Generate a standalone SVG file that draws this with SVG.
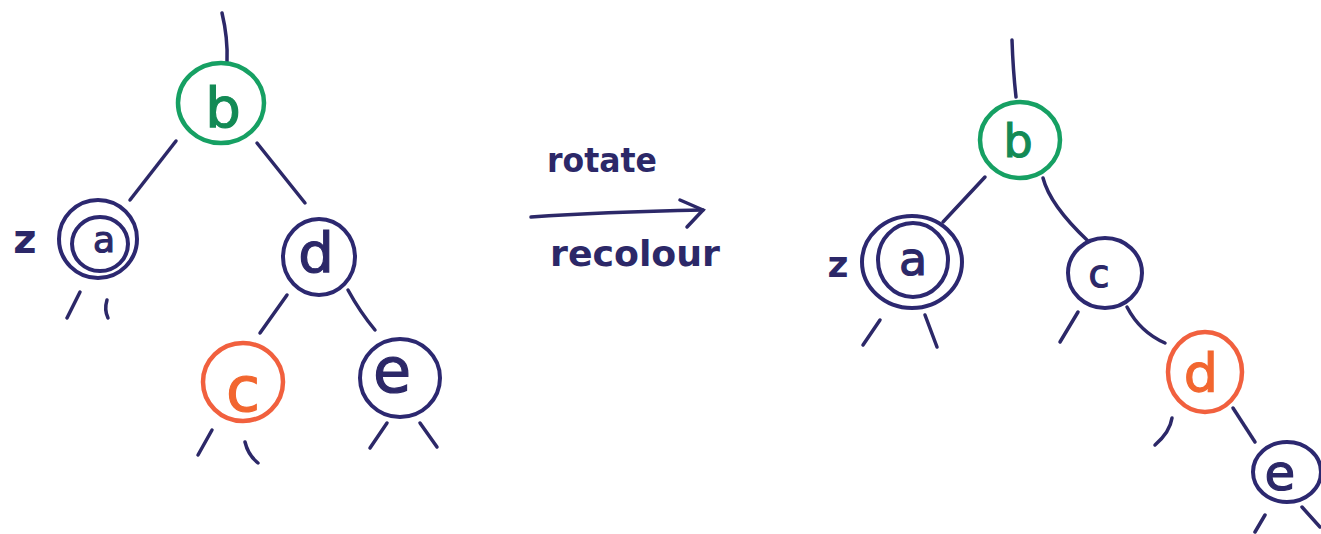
<svg xmlns="http://www.w3.org/2000/svg" width="1321" height="534" viewBox="0 0 1321 534">
<style>
.ln{fill:none;stroke:#2c2868;stroke-width:3.5;stroke-linecap:round}
.nv{fill:none;stroke:#2c2870;stroke-width:4}
.gr{fill:none;stroke:#16a063;stroke-width:4.5}
.or{fill:none;stroke:#f1603e;stroke-width:4.5}
.t{font-family:"DejaVu Sans","Liberation Sans",sans-serif;text-anchor:middle;stroke-width:1.2}
.tn{fill:#2c2868;stroke:#2c2868}
.tg{fill:#138a55;stroke:#138a55}
.to{fill:#f2662f;stroke:#f2662f}
.lab{font-family:"DejaVu Sans","Liberation Sans",sans-serif;fill:#2c2868;font-weight:bold;text-anchor:middle}
</style>
<rect width="1321" height="534" fill="#ffffff"/>
<g id="connectors">
<path class="ln" d="M222,13 Q228,38 227,62"/>
<path class="ln" d="M176,141 L130,200"/>
<path class="ln" d="M257,143 L305,203"/>
<path class="ln" d="M287,295 L260,333"/>
<path class="ln" d="M348,290 Q360,312 375,330"/>
<path class="ln" d="M80,292 L67,318"/>
<path class="ln" d="M107,300 Q104,310 108,318"/>
<path class="ln" d="M212,430 L198,455"/>
<path class="ln" d="M245,442 Q248,455 258,463"/>
<path class="ln" d="M387,423 L370,448"/>
<path class="ln" d="M420,423 L437,447"/>
<path class="ln" d="M1012,40 Q1013,70 1016,97"/>
<path class="ln" d="M985,177 L943,222"/>
<path class="ln" d="M1043,178 Q1050,205 1087,240"/>
<path class="ln" d="M880,320 L863,345"/>
<path class="ln" d="M925,315 L937,347"/>
<path class="ln" d="M1078,312 L1060,342"/>
<path class="ln" d="M1127,307 Q1140,332 1165,343"/>
<path class="ln" d="M1172,418 Q1170,432 1155,445"/>
<path class="ln" d="M1233,408 L1255,442"/>
<path class="ln" d="M1265,515 L1255,532"/>
<path class="ln" d="M1302,507 L1320,527"/>
</g>
<g id="arrow">
<path class="ln" d="M531,217 Q600,212 703,210" stroke="#3a3a90"/>
<path class="ln" d="M680,200 L703,210 L687,227" stroke="#3a3a90"/>
<text class="lab" x="602" y="172" font-size="34" textLength="110" lengthAdjust="spacingAndGlyphs">rotate</text>
<text class="lab" x="635" y="266" font-size="36" textLength="170" lengthAdjust="spacingAndGlyphs">recolour</text>
</g>
<g id="L-b">
<ellipse class="gr" cx="221" cy="103" rx="43" ry="40"/>
<text class="t tg" x="223" y="127" font-size="56">b</text>
</g>
<g id="L-a">
<ellipse class="nv" cx="98" cy="239" rx="39" ry="39"/>
<ellipse class="nv" cx="100" cy="244" rx="28" ry="27"/>
<text class="t tn" x="104" y="252" font-size="36">a</text>
<text class="lab" x="25" y="253" font-size="40">z</text>
</g>
<g id="L-d">
<ellipse class="nv" cx="319" cy="257" rx="36" ry="38"/>
<text class="t tn" x="316" y="272" font-size="56">d</text>
</g>
<g id="L-c">
<ellipse class="or" cx="243" cy="382" rx="40" ry="39"/>
<text class="t to" x="243" y="411" font-size="62">c</text>
</g>
<g id="L-e">
<ellipse class="nv" cx="400" cy="378" rx="40" ry="39"/>
<text class="t tn" x="392" y="392" font-size="62">e</text>
</g>
<g id="R-b">
<ellipse class="gr" cx="1020" cy="140" rx="40" ry="38"/>
<text class="t tg" x="1018" y="157" font-size="46">b</text>
</g>
<g id="R-a">
<ellipse class="nv" cx="912" cy="262" rx="50" ry="46"/>
<ellipse class="nv" cx="913" cy="260" rx="35" ry="37"/>
<text class="t tn" x="913" y="275" font-size="46">a</text>
<text class="lab" x="838" y="277" font-size="36">z</text>
</g>
<g id="R-c">
<ellipse class="nv" cx="1105" cy="273" rx="37" ry="35"/>
<text class="t tn" x="1099" y="287" font-size="38">c</text>
</g>
<g id="R-d">
<ellipse class="or" cx="1205" cy="372" rx="37" ry="40"/>
<text class="t to" x="1201" y="392" font-size="54">d</text>
</g>
<g id="R-e">
<ellipse class="nv" cx="1287" cy="472" rx="34" ry="30"/>
<text class="t tn" x="1280" y="490" font-size="50">e</text>
</g>
</svg>
